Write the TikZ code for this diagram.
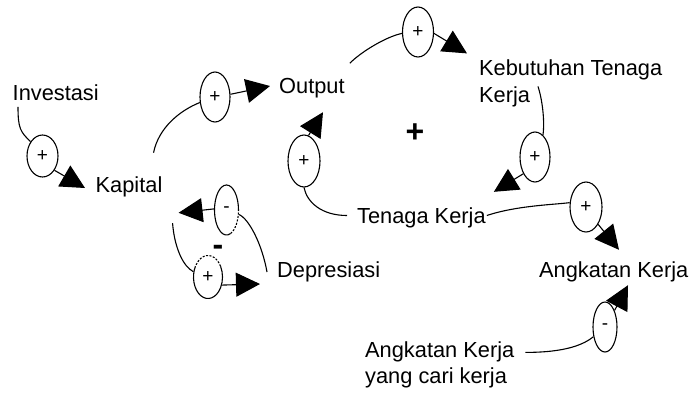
\documentclass[tikz,border=0pt]{standalone}
\usepackage{fontspec}
\setmainfont{Liberation Sans}
\usetikzlibrary{shapes.geometric,arrows.meta,calc}
\begin{document}
\begin{tikzpicture}[x=1pt,y=-1pt,
  lbl/.style={inner sep=0pt, anchor=base west, font=\fontsize{21.8}{27}\selectfont, text height=15.6pt, text depth=4.6pt},
  mlbl/.style={inner sep=0pt, anchor=north west, align=left},
  sgn/.style={ellipse, draw, line width=1.1pt, inner sep=0pt, minimum width=30pt, minimum height=50pt, font=\fontsize{19}{19}\selectfont},
  ln/.style={line width=1.1pt},
  dsh/.style={line width=1.1pt, dash pattern=on 2pt off 1.5pt},
  arr/.style={line width=1.1pt, -{Triangle[length=24pt,width=24pt]}},
  loopsign/.style={font=\fontsize{32}{32}\selectfont\bfseries, inner sep=0pt}
]
\fill[white] (0,0) rectangle (693,392);
\useasboundingbox (0,0) rectangle (693,392);

% variable labels
\node[lbl] (inv) at (12.5,100) {Investasi};
\node[lbl] (kap) at (95.5,192) {Kapital};
\node[lbl] (out) at (279,93) {Output};
\node[mlbl, font=\fontsize{21.8}{27}\selectfont] (keb) at (479,59.4) {Kebutuhan Tenaga\\Kerja};
\node[lbl] (ten) at (357,223) {Tenaga Kerja};
\node[lbl] (dep) at (277,277) {Depresiasi};
\node[lbl] (ang) at (539,277) {Angkatan Kerja};
\node[mlbl, font=\fontsize{21.8}{26}\selectfont] (cari) at (365,341.4) {Angkatan Kerja\\yang cari kerja};

% polarity ellipses
\node[sgn, minimum width=31pt, minimum height=42pt] (e1) at (42.5,156) {+};
\node[sgn] (e2) at (215,97) {+};
\node[sgn, minimum width=31pt] (e3) at (418,32) {+};
\node[sgn] (e4) at (535,157) {+};
\node[sgn, minimum width=32pt, minimum height=52pt] (e5) at (304,161) {+};
\node[sgn, minimum width=32pt] (e6) at (586,207) {+};
\node[sgn, minimum width=24pt] (e7) at (605,327) {-};
\node[sgn, draw=none, minimum width=24pt] (e8) at (226.5,210) {-};
\node[sgn, draw=none, minimum width=29pt, minimum height=43pt] (e9) at (208,277) {+};

\begin{scope}[x=1pt,y=1pt,shift={(e8.center)}]
  \draw[ln] (0:12 and 25) arc[start angle=0,end angle=290,x radius=12,y radius=25];
  \draw[dsh] (290:12 and 25) arc[start angle=290,end angle=360,x radius=12,y radius=25];
\end{scope}
\begin{scope}[x=1pt,y=1pt,shift={(e9.center)}]
  \draw[ln] (150:14.5 and 21.5) arc[start angle=150,end angle=390,x radius=14.5,y radius=21.5];
  \draw[dsh] (30:14.5 and 21.5) arc[start angle=30,end angle=150,x radius=14.5,y radius=21.5];
\end{scope}

% loop signs
\node[loopsign] (lp1) at (415,133) {+};
\node[loopsign] (lp2) at (218,250) {-};

% connectors
\draw[ln] ($(inv.south west)+(5.5,2)$) .. controls +(0,22) and +(-10,-10) .. (e1.130);
\draw[arr] (e1.-50) -- ($(kap.west)+(-10.5,1.5)$);
\draw[ln] ($(kap.north east)+(-9,-23.5)$) .. controls +(5,-25) and +(-20,8) .. (e2.200);
\draw[arr] (e2.10) -- ($(out.west)+(-9,-1.5)$);
\draw[ln] ($(out.north east)+(5,-14)$) .. controls +(12,-12) and +(-15,3) .. (e3.185);
\draw[arr] (e3.-5) -- ($(keb.north west)+(-12,-6)$);
\draw[ln] ($(keb.north west)+(59,27)$) .. controls +(4,12) and +(2,-15) .. (e4.70);
\draw[arr] (e4.235) -- ($(ten.north east)+(8,-15.4)$);
\draw[ln] ($(ten.west)+(-10,-2)$) .. controls +(-25,0) and +(3,15) .. (e5.south);
\draw[arr] (e5.80) -- ($(out.south west)+(44,14.4)$);
\draw[ln] ($(ten.east)+(1,-2)$) .. controls +(30,-10) and +(-15,2) .. (e6.165);
\draw[arr] (e6.-55) -- ($(ang.north west)+(80,-11.4)$);
\draw[ln] ($(cari.north east)+(11,11)$) .. controls +(40,0) and +(-10,8) .. (e7.220);
\draw[arr] (e7.60) -- ($(ang.south west)+(89,3.4)$);
\draw[ln] ($(dep.west)+(-10,0.5)$) .. controls +(-5,-28) and +(10,4) .. (e8.-20);
\draw[arr] (e8.175) -- ($(kap.south east)+(16,16)$);
\draw[ln] ($(kap.south east)+(10,26.4)$) .. controls +(2,25) and +(-10,-5) .. (e9.160);
\draw[arr] (e9.-30) -- ($(dep.west)+(-17,12.5)$);
\end{tikzpicture}
\end{document}
